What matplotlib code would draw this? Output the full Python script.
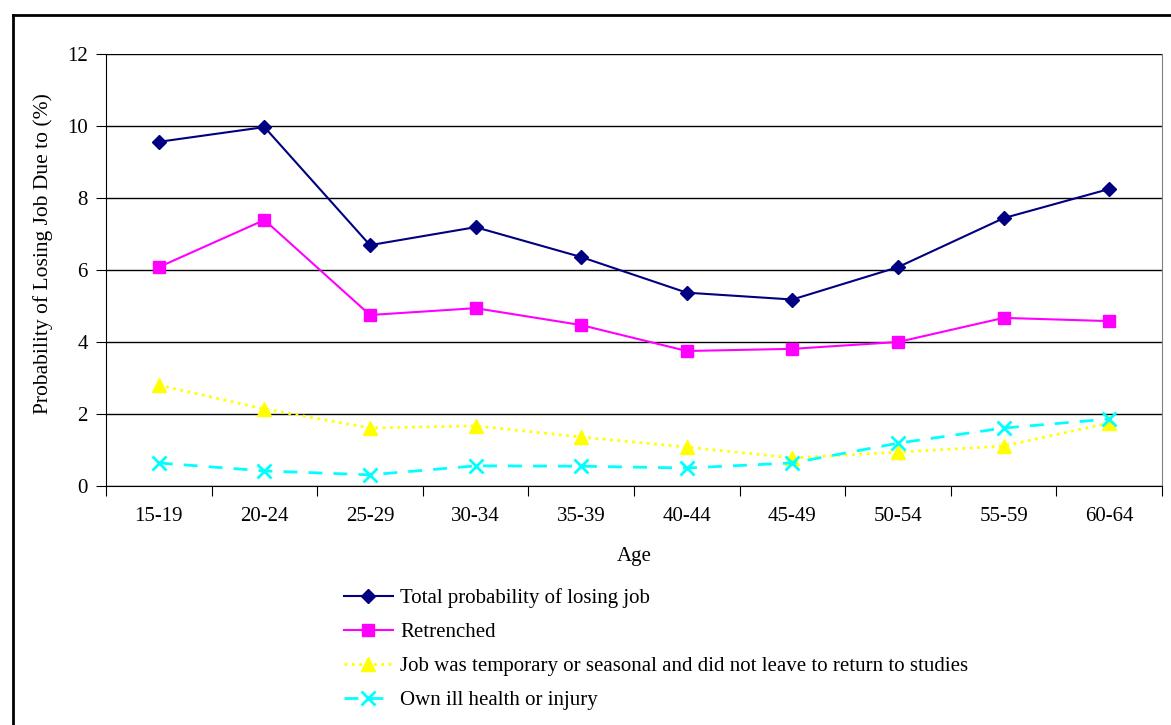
from matplotlib import pyplot as plt
from matplotlib.lines import Line2D
import numpy

# data
ages = ['15-19', '20-24', '25-29', '30-34', '35-39', '40-44', '45-49', '50-54', '55-59', '60-64']
total = [9.56, 9.97, 6.69, 7.19, 6.36, 5.37, 5.18, 6.08, 7.44, 8.25]
retrenched = [6.08, 7.39, 4.75, 4.94, 4.47, 3.75, 3.81, 4.0, 4.67, 4.58]
temporary = [2.8, 2.14, 1.61, 1.67, 1.36, 1.08, 0.78, 0.94, 1.11, 1.75]
ill_health = [0.64, 0.42, 0.31, 0.56, 0.55, 0.5, 0.64, 1.19, 1.61, 1.86]

labels = ['Total probability of losing job',
          'Retrenched',
          'Job was temporary or seasonal and did not leave to return to studies',
          'Own ill health or injury']

plt.rcParams['font.family'] = ['Liberation Serif', 'DejaVu Serif']

W, H = 1171, 725
fig = plt.figure(figsize=(W / 100, H / 100), dpi=100)
ax = fig.add_axes([106 / W, 1 - 486 / H, (1162 - 106) / W, (486 - 54) / H])

x = numpy.arange(len(ages))
ax.plot(x, total, '-', color='#000080', lw=1.5, marker='D', ms=7, label=labels[0])
ax.plot(x, retrenched, '-', color='#FF00FF', lw=1.5, marker='s', ms=9, label=labels[1])
ax.plot(x, temporary, ':', color='#FFFF00', lw=2, marker='^', ms=10, label=labels[2])
ax.plot(x, ill_health, color='#00FFFF', lw=2, ls=(0, (5, 4)), marker='x', ms=10, mew=2, label=labels[3])

ax.set_xlim(-0.5, len(ages) - 0.5)
ax.set_ylim(0, 12)
ax.set_yticks(numpy.arange(0, 13, 2))
ax.yaxis.grid(True, color='black', lw=1)
ax.set_axisbelow(True)

# category labels centred, ticks at boundaries
ax.set_xticks(numpy.arange(-0.5, len(ages)), minor=False)
ax.set_xticklabels([])
ax.set_xticks(x, minor=True)
ax.set_xticklabels(ages, minor=True)
ax.tick_params(axis='x', which='major', direction='out', length=7, color='black')
ax.tick_params(axis='x', which='minor', length=0, pad=15, labelsize=15)
ax.tick_params(axis='y', direction='out', length=7, labelsize=15, pad=6)

ax.spines['top'].set_visible(False)
ax.spines['right'].set_color('#808080')
ax.spines['left'].set_color('black')
ax.spines['bottom'].set_color('black')

ax.set_xlabel('Age', fontsize=15, labelpad=15)
ax.set_ylabel('Probability of Losing Job Due to (%)', fontsize=15.5)
ax.yaxis.set_label_coords(-0.050, 0.539)

l = fig.legend(loc='upper left', bbox_to_anchor=(344 / W, 1 - 588 / H), fontsize=15,
               frameon=False, handlelength=2.35, handletextpad=0.34, labelspacing=0.7,
               borderaxespad=0, borderpad=0)

# outer chart border (right and bottom edges fall outside the picture)
fig.add_artist(Line2D([12.5 / W, 12.5 / W], [0, 1 - 14.5 / H], transform=fig.transFigure, color='black', lw=2))
fig.add_artist(Line2D([12.5 / W, 1], [1 - 14.5 / H, 1 - 14.5 / H], transform=fig.transFigure, color='black', lw=2))

plt.savefig('out.png', dpi=100)
